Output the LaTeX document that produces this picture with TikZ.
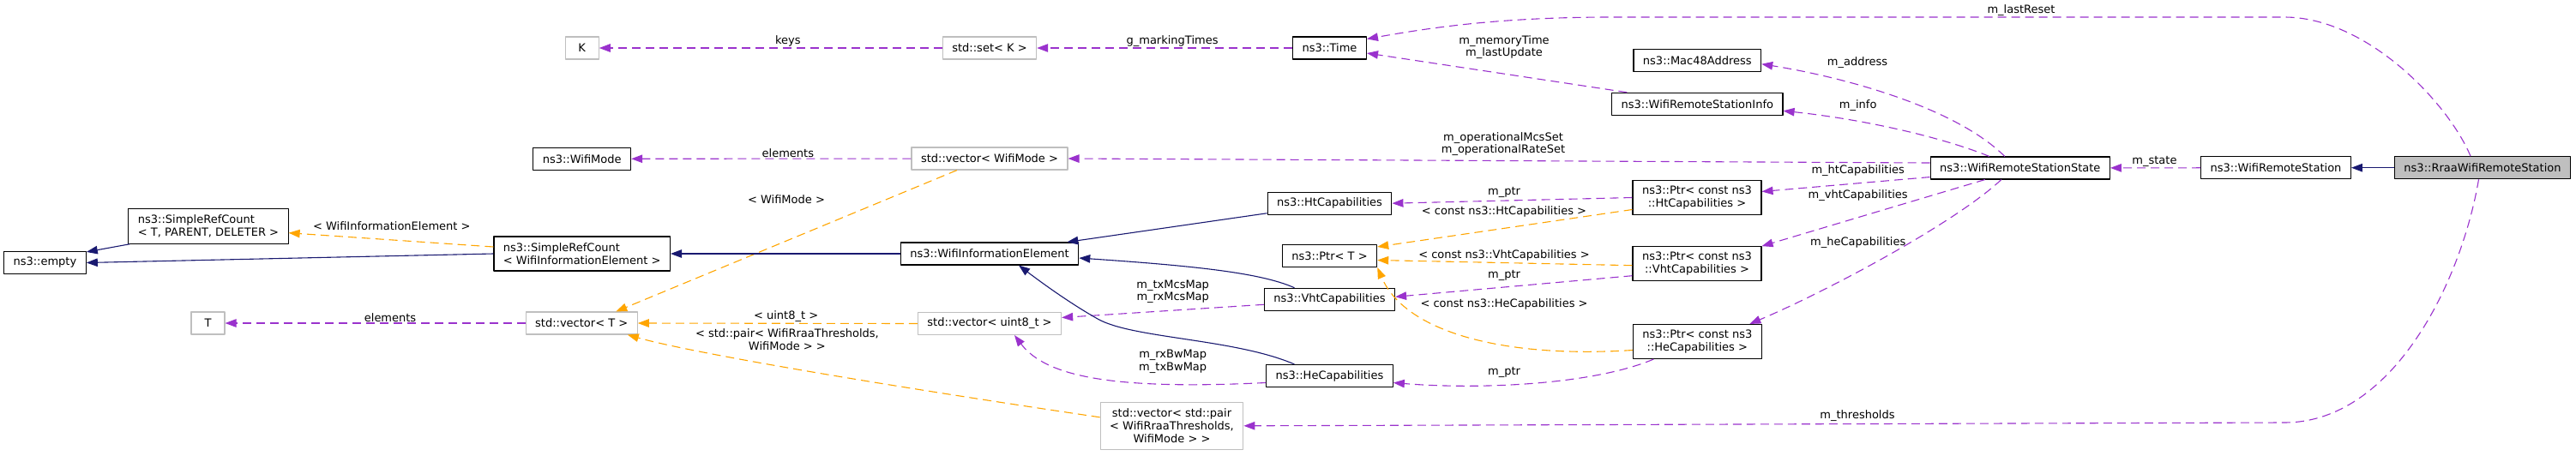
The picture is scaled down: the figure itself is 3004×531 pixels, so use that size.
\documentclass[tikz,border=0pt]{standalone}
\usepackage{fontspec}
\setmainfont{DejaVu Sans}
\usetikzlibrary{arrows.meta}
\definecolor{usecol}{HTML}{9A32CD}
\definecolor{tmplcol}{HTML}{FFA500}
\definecolor{inhcol}{HTML}{191970}
\definecolor{grey75}{HTML}{BFBFBF}
\begin{document}
\begin{tikzpicture}[x=1pt,y=-1pt,>={Triangle[length=13pt,width=9.5pt]},line join=round,
	font=\fontsize{13}{14.7}\selectfont,
	cls/.style={draw=black,line width=1.1pt,inner xsep=11pt,inner ysep=2pt,minimum height=26pt,minimum width=39pt},
	ext/.style={cls,draw=grey75},
	uses/.style={->,usecol,line width=1.1pt,dash pattern=on 10pt off 6pt},
	tmpl/.style={->,tmplcol,line width=1.1pt,dash pattern=on 10pt off 6pt},
	inh/.style={->,inhcol,line width=1.1pt},
	lbl/.style={inner sep=1pt,text=black,align=center}]
	\useasboundingbox (0,0) rectangle (3004,531);
	% classes
	\node[cls] (empty) at (52.4,306.5) {ns3::empty};
	\node[cls,align=left,minimum height=41pt] (srcT) at (243,263.7) {ns3::SimpleRefCount\\< T, PARENT, DELETER >};
	\node[cls,align=left,minimum height=40pt] (srcWIE) at (678.7,296) {ns3::SimpleRefCount\\< WifiInformationElement >};
	\node[ext] (K) at (678.7,56) {K};
	\node[cls] (mode) at (678.7,185.3) {ns3::WifiMode};
	\node[ext] (vecT) at (678.2,377) {std::vector< T >};
	\node[ext] (T) at (242.5,377) {T};
	\node[ext] (setK) at (1154,56) {std::set< K >};
	\node[ext] (vecMode) at (1154,185) {std::vector< WifiMode >};
	\node[cls] (wie) at (1154,296) {ns3::WifiInformationElement};
	\node[ext] (vecU8) at (1154,377.5) {std::vector< uint8\_t >};
	\node[ext,align=center,minimum height=55pt] (vecPair) at (1366.5,496.8) {std::vector< std::pair\\< WifiRraaThresholds,\\WifiMode > >};
	\node[cls] (time) at (1550.5,56) {ns3::Time};
	\node[cls] (ht) at (1550.5,237.2) {ns3::HtCapabilities};
	\node[cls] (ptrT) at (1550.5,298.5) {ns3::Ptr< T >};
	\node[cls] (vht) at (1550.5,349.3) {ns3::VhtCapabilities};
	\node[cls] (he) at (1550.5,438.5) {ns3::HeCapabilities};
	\node[cls] (mac) at (1979.3,70.7) {ns3::Mac48Address};
	\node[cls] (info) at (1979.3,121.3) {ns3::WifiRemoteStationInfo};
	\node[cls,align=center,minimum height=40pt] (ptrHt) at (1979,230.5) {ns3::Ptr< const ns3\\::HtCapabilities >};
	\node[cls,align=center,minimum height=40pt] (ptrVht) at (1979,307.7) {ns3::Ptr< const ns3\\::VhtCapabilities >};
	\node[cls,align=center,minimum height=40pt] (ptrHe) at (1979.3,398.5) {ns3::Ptr< const ns3\\::HeCapabilities >};
	\node[cls] (state) at (2355.8,196) {ns3::WifiRemoteStationState};
	\node[cls] (station) at (2654,195.7) {ns3::WifiRemoteStation};
	\node[cls,fill=grey75] (rraa) at (2895,195.7) {ns3::RraaWifiRemoteStation};
	% members, straight
	\foreach \a/\b/\p/\l in
	{
		setK/K/0.45/keys,
		time/setK/0.47/g\_markingTimes,
		vecMode/mode/0.44/elements,
		vecT/T/0.45/elements,
		station/state/0.49/m\_state
	}
	{
		\draw[uses] (\a) -- (\b) node[lbl,pos=\p,above]{\l};
	}
	% members
	\draw[uses] ([xshift=-14pt]rraa.north) .. controls (2855,120) and (2760,20) .. (2664,20) -- (1880,20) .. controls (1760,20) and (1680,30) .. ([yshift=-3pt]time.north east) node[lbl] at (2357,11.7) {m\_lastReset};
	\draw[uses] ([xshift=-4.5pt]rraa.south) .. controls (2870,330) and (2790,493) .. (2664,493) -- (vecPair.east) node[lbl] at (2166,485) {m\_thresholds};
	\draw[uses] ([xshift=-18pt]state.north) .. controls (2280,125) and (2150,90) .. ([yshift=-4pt]mac.east) node[lbl] at (2166,72.7) {m\_address};
	\draw[uses] ([xshift=-36pt]state.north) .. controls (2270,162) and (2180,140) .. ([yshift=-8pt]info.east) node[lbl] at (2166.7,123.3) {m\_info};
	\draw[uses] ([yshift=6pt]state.west) -- (vecMode.east) node[lbl] at (1753,168) {m\_operationalMcsSet\\m\_operationalRateSet};
	\draw[uses] ([yshift=3pt]state.south west) -- ([yshift=7pt]ptrHt.east) node[lbl] at (2166.7,199.3) {m\_htCapabilities};
	\draw[uses] ([xshift=-41pt]state.south) -- (ptrVht.north east) node[lbl] at (2166.7,228.3) {m\_vhtCapabilities};
	\draw[uses] ([xshift=-22pt]state.south) .. controls (2280,260) and (2130,340) .. ([xshift=61pt]ptrHe.north) node[lbl] at (2166.7,283.3) {m\_heCapabilities};
	\draw[uses] (ptrHt.west) -- (ht.east) node[lbl] at (1754,224) {m\_ptr};
	\draw[uses] ([yshift=-14pt]ptrVht.west) -- ([yshift=3pt]vht.east) node[lbl] at (1754,321) {m\_ptr};
	\draw[uses] ([xshift=-51pt]ptrHe.south) .. controls (1860,448) and (1730,455) .. ([yshift=-8pt]he.east) node[lbl] at (1754,434) {m\_ptr};
	\draw[uses] ([xshift=-82pt]info.north) -- ([yshift=-6pt]time.east) node[lbl] at (1754,55) {m\_memoryTime\\m\_lastUpdate};
	\draw[uses] ([yshift=-6pt]vht.west) -- ([yshift=7pt]vecU8.east) node[lbl] at (1367.7,340.2) {m\_txMcsMap\\m\_rxMcsMap};
	\draw[uses] ([yshift=-8pt]he.west) .. controls (1300,455) and (1220,440) .. ([xshift=29pt]vecU8.south) node[lbl] at (1367.7,421.7) {m\_rxBwMap\\m\_txBwMap};
	% template instances
	\draw[tmpl] ([yshift=8pt]srcWIE.west) -- ([yshift=-8pt]srcT.east) node[lbl] at (456.8,263.3) {< WifiInformationElement >};
	\draw[tmpl] ([xshift=-38pt]vecMode.south) -- ([xshift=40pt]vecT.north) node[lbl] at (917,232.3) {< WifiMode >};
	\draw[tmpl] (vecU8.west) -- (vecT.east) node[lbl,pos=0.47,above] {< uint8\_t >};
	\draw[tmpl] ([yshift=10pt]vecPair.west) .. controls (1000,445) and (800,410) .. ([xshift=-12pt]vecT.south east) node[lbl] at (917.9,395.8) {< std::pair< WifiRraaThresholds,\\WifiMode > >};
	\draw[tmpl] ([yshift=-14pt]ptrHt.west) -- ([yshift=-3pt]ptrT.north east) node[lbl] at (1754,246.7) {< const ns3::HtCapabilities >};
	\draw[tmpl] ([yshift=-2pt]ptrVht.west) -- ([yshift=-5pt]ptrT.east) node[lbl] at (1754,298) {< const ns3::VhtCapabilities >};
	\draw[tmpl] ([yshift=-10pt]ptrHe.west) .. controls (1760,418) and (1640,390) .. (ptrT.south east) node[lbl] at (1754,355.3) {< const ns3::HeCapabilities >};
	% inheritance
	\draw[inh] ([xshift=2pt]srcT.south west) -- ([yshift=-1pt]empty.north east);
	\draw[inh] (srcWIE.west) -- (empty.east);
	\draw[inh] (wie.west) -- (srcWIE.east);
	\draw[inh] ([yshift=2pt]ht.south west) -- ([xshift=-14pt]wie.north east);
	\draw[inh] ([xshift=-41pt]vht.north) .. controls (1470,318) and (1390,310) .. ([yshift=-5pt]wie.east);
	\draw[inh] ([xshift=-41pt]he.north) .. controls (1440,395) and (1320,395) .. (1280,372) .. controls (1248,354) and (1215,330) .. ([xshift=34pt]wie.south);
	\draw[inh] (rraa.west) -- (station.east);
\end{tikzpicture}
\end{document}
